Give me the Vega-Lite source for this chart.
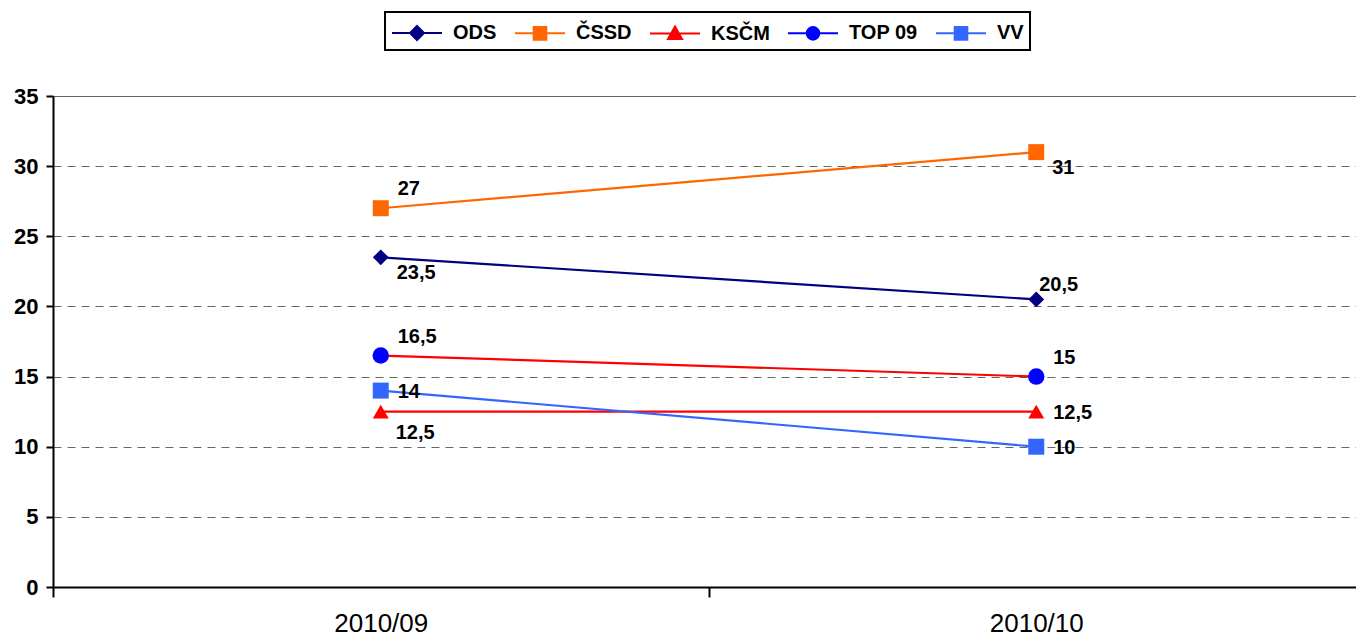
{
  "$schema": "https://vega.github.io/schema/vega-lite/v6.json",
  "autosize": {"type": "none"},
  "padding": {"left": 53, "top": 96, "right": 0, "bottom": 52},
  "width": 1303,
  "height": 491,
  "background": "white",
  "data": {
    "values": [
      {"series": "ODS", "period": "2010/09", "value": 23.5},
      {"series": "ODS", "period": "2010/10", "value": 20.5},
      {"series": "ČSSD", "period": "2010/09", "value": 27},
      {"series": "ČSSD", "period": "2010/10", "value": 31},
      {"series": "KSČM", "period": "2010/09", "value": 12.5},
      {"series": "KSČM", "period": "2010/10", "value": 12.5},
      {"series": "TOP 09", "period": "2010/09", "value": 16.5},
      {"series": "TOP 09", "period": "2010/10", "value": 15},
      {"series": "VV", "period": "2010/09", "value": 14},
      {"series": "VV", "period": "2010/10", "value": 10}
    ]
  },
  "encoding": {
    "x": {
      "field": "period",
      "type": "ordinal",
      "scale": {"type": "band", "range": [0, 1311], "paddingInner": 0, "paddingOuter": 0},
      "axis": {
        "title": null,
        "labelAngle": 0,
        "tickBand": "extent",
        "tickSize": 10,
        "tickWidth": 2,
        "tickColor": "black",
        "domainColor": "black",
        "domainWidth": 2,
        "labelFontSize": 26,
        "labelColor": "black",
        "labelPadding": 13,
        "grid": false
      }
    },
    "y": {
      "field": "value",
      "type": "quantitative",
      "scale": {"domain": [0, 35], "nice": false},
      "axis": {
        "title": null,
        "values": [0, 5, 10, 15, 20, 25, 30, 35],
        "grid": true,
        "gridColor": "#666666",
        "gridWidth": 1,
        "gridDash": {"condition": {"test": "datum.value === 35", "value": []}, "value": [8, 6]},
        "domainColor": "black",
        "domainWidth": 2,
        "tickColor": "black",
        "tickWidth": 2,
        "tickSize": 7,
        "labelFontSize": 22,
        "labelFontWeight": "bold",
        "labelColor": "black",
        "labelPadding": 8
      }
    },
    "color": {
      "field": "series",
      "type": "nominal",
      "scale": {
        "domain": ["ODS", "ČSSD", "KSČM", "TOP 09", "VV"],
        "range": ["#000080", "#FF6600", "#FF0000", "#0000FF", "#3366FF"]
      },
      "legend": {
        "orient": "none",
        "legendX": 332,
        "legendY": -84,
        "direction": "horizontal",
        "title": null,
        "strokeColor": "black",
        "padding": 6,
        "symbolSize": 784,
        "symbolType": "M-1,0H2.571",
        "symbolStrokeWidth": 2,
        "labelFontSize": 20,
        "labelFontWeight": "bold",
        "labelColor": "black",
        "labelOffset": 32,
        "columnPadding": 14,
        "encode": {
          "legend": {"update": {"strokeWidth": {"value": 2}}},
          "symbols": {
            "update": {
              "shape": {"signal": "datum.value === 'ODS' ? 'M-1,0H2.571M0.786,-0.5L1.286,0L0.786,0.5L0.286,0Z' : (datum.value === 'KSČM' ? 'M-1,0H2.571M0.786,-0.5L1.286,0.4H0.286Z' : (datum.value === 'TOP 09' ? 'M-1,0H2.571M0.336,0A0.45,0.45,0,1,0,1.236,0A0.45,0.45,0,1,0,0.336,0Z' : 'M-1,0H2.571M0.336,-0.45H1.236V0.45H0.336Z'))"},
              "size": {"value": 784},
              "strokeWidth": {"value": 2},
              "opacity": {"value": 1}
            }
          }
        }
      }
    }
  },
  "layer": [
    {
      "transform": [{"filter": "datum.series !== 'TOP 09'"}],
      "mark": {"type": "line", "strokeWidth": 2.2}
    },
    {
      "transform": [{"filter": "datum.series === 'TOP 09'"}],
      "mark": {"type": "line", "strokeWidth": 2.2},
      "encoding": {"color": {"value": "#FF0000"}}
    },
    {
      "transform": [{"filter": "datum.series === 'ODS'"}],
      "mark": {"type": "point", "shape": "diamond", "size": 250, "filled": true, "opacity": 1}
    },
    {
      "transform": [{"filter": "datum.series === 'ČSSD' || datum.series === 'VV'"}],
      "mark": {"type": "point", "shape": "square", "size": 256, "filled": true, "opacity": 1}
    },
    {
      "transform": [{"filter": "datum.series === 'KSČM'"}],
      "mark": {"type": "point", "shape": "triangle-up", "size": 256, "filled": true, "opacity": 1}
    },
    {
      "transform": [{"filter": "datum.series === 'TOP 09'"}],
      "mark": {"type": "point", "shape": "circle", "size": 270, "filled": true, "opacity": 1}
    },
    {
      "transform": [{"filter": "(datum.series === 'ČSSD' && datum.period === '2010/09') || datum.series === 'TOP 09'"}],
      "mark": {"type": "text", "fontSize": 20, "fontWeight": "bold", "align": "left", "baseline": "middle", "dx": 17, "dy": -19},
      "encoding": {"text": {"field": "value", "type": "quantitative", "format": "~g"}, "color": {"value": "black"}}
    },
    {
      "transform": [{"filter": "datum.series === 'ODS' && datum.period === '2010/10'"}],
      "mark": {"type": "text", "fontSize": 20, "fontWeight": "bold", "align": "left", "baseline": "middle", "dx": 3, "dy": -14},
      "encoding": {"text": {"field": "value", "type": "quantitative", "format": "~g"}, "color": {"value": "black"}}
    },
    {
      "transform": [{"filter": "(datum.series === 'ODS' && datum.period === '2010/09') || (datum.series === 'ČSSD' && datum.period === '2010/10')"}],
      "mark": {"type": "text", "fontSize": 20, "fontWeight": "bold", "align": "left", "baseline": "middle", "dx": 16, "dy": 16},
      "encoding": {"text": {"field": "value", "type": "quantitative", "format": "~g"}, "color": {"value": "black"}}
    },
    {
      "transform": [{"filter": "datum.series === 'KSČM' && datum.period === '2010/09'"}],
      "mark": {"type": "text", "fontSize": 20, "fontWeight": "bold", "align": "left", "baseline": "middle", "dx": 15, "dy": 21},
      "encoding": {"text": {"field": "value", "type": "quantitative", "format": "~g"}, "color": {"value": "black"}}
    },
    {
      "transform": [{"filter": "datum.series === 'VV' || (datum.series === 'KSČM' && datum.period === '2010/10')"}],
      "mark": {"type": "text", "fontSize": 20, "fontWeight": "bold", "align": "left", "baseline": "middle", "dx": 17, "dy": 1},
      "encoding": {"text": {"field": "value", "type": "quantitative", "format": "~g"}, "color": {"value": "black"}}
    }
  ],
  "config": {
    "font": "Liberation Sans",
    "view": {"stroke": null},
    "locale": {
      "number": {"decimal": ",", "thousands": " ", "grouping": [3], "currency": ["", " Kč"]}
    }
  }
}
